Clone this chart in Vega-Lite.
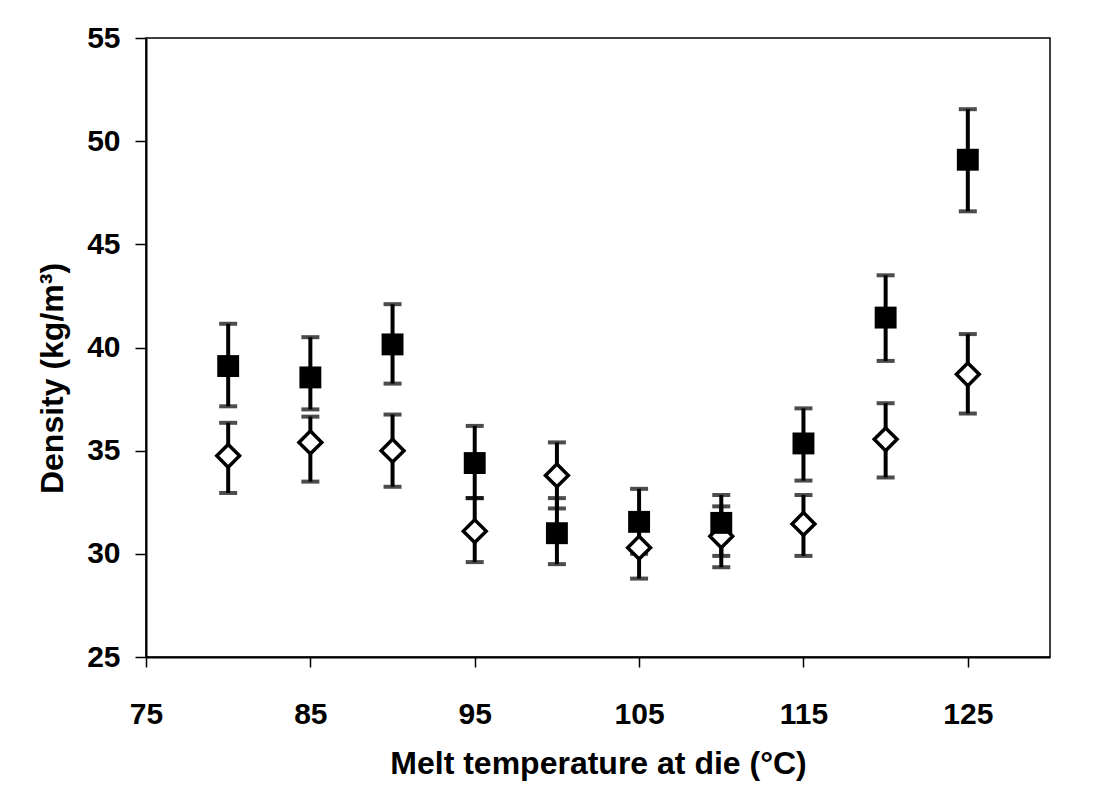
{
  "$schema": "https://vega.github.io/schema/vega-lite/v6.json",
  "width": 904,
  "height": 619,
  "autosize": {"type": "none"},
  "padding": {"left": 146, "top": 38, "right": 47, "bottom": 146},
  "background": "white",
  "config": {
    "view": {"stroke": "black", "strokeWidth": 1.5},
    "axis": {
      "grid": false,
      "domainColor": "black",
      "domainWidth": 2,
      "tickColor": "black",
      "tickWidth": 1.5,
      "labelFont": "Liberation Sans",
      "labelFontWeight": "bold",
      "labelFontSize": 30,
      "labelColor": "black",
      "titleFont": "Liberation Sans",
      "titleFontWeight": "bold",
      "titleColor": "black",
      "labelFlush": false,
      "labelOverlap": false
    }
  },
  "data": {
    "values": [
      {"temp": 80, "series": "A", "density": 39.1, "lo": 37.15, "hi": 41.15},
      {"temp": 85, "series": "A", "density": 38.55, "lo": 37.0, "hi": 40.5},
      {"temp": 90, "series": "A", "density": 40.15, "lo": 38.25, "hi": 42.1},
      {"temp": 95, "series": "A", "density": 34.4, "lo": 32.7, "hi": 36.2},
      {"temp": 100, "series": "A", "density": 31.0, "lo": 29.5, "hi": 32.7},
      {"temp": 105, "series": "A", "density": 31.55, "lo": 30.0, "hi": 33.15},
      {"temp": 110, "series": "A", "density": 31.5, "lo": 29.9, "hi": 32.85},
      {"temp": 115, "series": "A", "density": 35.35, "lo": 33.55, "hi": 37.05},
      {"temp": 120, "series": "A", "density": 41.45, "lo": 39.35, "hi": 43.5},
      {"temp": 125, "series": "A", "density": 49.1, "lo": 46.6, "hi": 51.55},
      {"temp": 80, "series": "B", "density": 34.75, "lo": 32.95, "hi": 36.35},
      {"temp": 85, "series": "B", "density": 35.4, "lo": 33.5, "hi": 36.65},
      {"temp": 90, "series": "B", "density": 35.0, "lo": 33.25, "hi": 36.75},
      {"temp": 95, "series": "B", "density": 31.1, "lo": 29.6, "hi": 32.7},
      {"temp": 100, "series": "B", "density": 33.8, "lo": 32.2, "hi": 35.4},
      {"temp": 105, "series": "B", "density": 30.3, "lo": 28.8, "hi": 31.8},
      {"temp": 110, "series": "B", "density": 30.85, "lo": 29.35, "hi": 32.3},
      {"temp": 115, "series": "B", "density": 31.45, "lo": 29.9, "hi": 32.85},
      {"temp": 120, "series": "B", "density": 35.55, "lo": 33.7, "hi": 37.3},
      {"temp": 125, "series": "B", "density": 38.7, "lo": 36.8, "hi": 40.65}
    ]
  },
  "encoding": {
    "x": {
      "field": "temp", "type": "quantitative",
      "scale": {"domain": [75, 130], "nice": false, "zero": false},
      "axis": {
        "title": "Melt temperature at die (°C)",
        "titleFontSize": 32,
        "values": [75, 85, 95, 105, 115, 125],
        "tickSize": 10,
        "labelBaseline": "alphabetic",
        "labelPadding": 56,
        "titleBaseline": "alphabetic",
        "titleY": 116
      }
    }
  },
  "layer": [
    {
      "mark": {"type": "rule", "color": "black", "strokeWidth": 4},
      "encoding": {
        "y": {
          "field": "lo", "type": "quantitative",
          "scale": {"domain": [25, 55], "nice": false, "zero": false},
          "axis": {
            "title": "Density (kg/m³)",
            "titleFontSize": 32,
            "values": [25, 30, 35, 40, 45, 50, 55],
            "tickSize": 11,
            "labelPadding": 15,
            "titleX": -84,
            "titleY": 340,
            "titleBaseline": "alphabetic",
            "titleAngle": 270
          }
        },
        "y2": {"field": "hi"}
      }
    },
    {
      "mark": {"type": "tick", "color": "black", "orient": "horizontal", "size": 18, "thickness": 4},
      "encoding": {"y": {"field": "lo", "type": "quantitative"}}
    },
    {
      "mark": {"type": "tick", "color": "black", "orient": "horizontal", "size": 18, "thickness": 4},
      "encoding": {"y": {"field": "hi", "type": "quantitative"}}
    },
    {
      "transform": [{"filter": "datum.series == 'B'"}],
      "mark": {"type": "point", "shape": "diamond", "filled": true, "fill": "white", "stroke": "black", "strokeWidth": 3.5, "size": 520, "opacity": 1},
      "encoding": {"y": {"field": "density", "type": "quantitative"}}
    },
    {
      "transform": [{"filter": "datum.series == 'A'"}],
      "mark": {"type": "point", "shape": "square", "filled": true, "color": "black", "size": 480, "opacity": 1},
      "encoding": {"y": {"field": "density", "type": "quantitative"}}
    }
  ]
}
